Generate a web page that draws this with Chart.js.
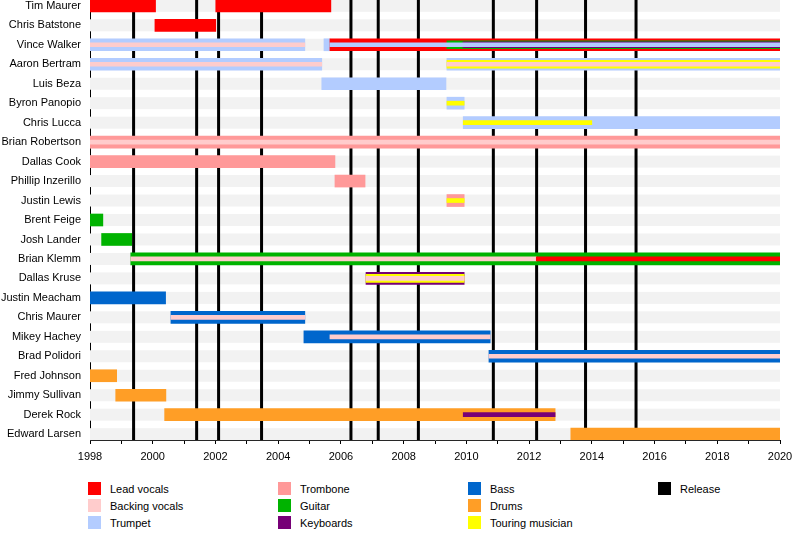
<!DOCTYPE html>
<html>
<head>
<meta charset="utf-8">
<script src="https://cdn.jsdelivr.net/npm/chart.js@4.4.1/dist/chart.umd.min.js"></script>
<style>
  body { margin: 0; background: #fff; font-family: "Liberation Sans", Arial, sans-serif; }
  #wrap { position: relative; width: 800px; height: 560px; }
  #chart { position: absolute; left: 0; top: 0; }
  .key { position: absolute; font-size: 11px; color: #000; line-height: 13px; white-space: nowrap; }
  .key i { position: absolute; left: 0; top: 0; width: 13px; height: 13px; }
  .key span { position: absolute; left: 22px; top: 1px; }
</style>
</head>
<body>
<div id="wrap">
  <canvas id="chart" width="800" height="470"></canvas>
  <div id="legend"></div>
</div>
<script>
const members = [
    'Tim Maurer', 'Chris Batstone', 'Vince Walker', 'Aaron Bertram', 'Luis Beza',
    'Byron Panopio', 'Chris Lucca', 'Brian Robertson', 'Dallas Cook', 'Phillip Inzerillo',
    'Justin Lewis', 'Brent Feige', 'Josh Lander', 'Brian Klemm', 'Dallas Kruse',
    'Justin Meacham', 'Chris Maurer', 'Mikey Hachey', 'Brad Polidori', 'Fred Johnson',
    'Jimmy Sullivan', 'Derek Rock', 'Edward Larsen'
];
const roles = ['Lead vocals', 'Backing vocals', 'Trumpet', 'Trombone', 'Guitar',
    'Keyboards', 'Bass', 'Drums', 'Touring musician'];
const roleColors = ['#ff0000', '#ffcccc', '#b3ccff', '#ff9999', '#00b300',
    '#770077', '#0066cc', '#ff9e26', '#ffff00'];
const releases = [1999.39, 2001.40, 2002.10, 2003.47, 2006.32, 2007.19, 2008.47,
    2010.86, 2012.24, 2013.80, 2015.41];
const yearLabels = [1998, 2000, 2002, 2004, 2006, 2008, 2010, 2012, 2014, 2016, 2018, 2020];

// [member, role, from, to]
const mainSpans = [
    ['Tim Maurer', 'Lead vocals', 1998, 2000.09],
    ['Tim Maurer', 'Lead vocals', 2002.01, 2005.68],
    ['Chris Batstone', 'Lead vocals', 2000.07, 2002.01],
    ['Vince Walker', 'Trumpet', 1998, 2004.85],
    ['Vince Walker', 'Trumpet', 2005.46, 2005.65],
    ['Vince Walker', 'Lead vocals', 2005.65, 2020],
    ['Aaron Bertram', 'Trumpet', 1998, 2005.39],
    ['Aaron Bertram', 'Trumpet', 2009.38, 2020],
    ['Luis Beza', 'Trumpet', 2005.39, 2009.35],
    ['Byron Panopio', 'Trumpet', 2009.38, 2009.93],
    ['Chris Lucca', 'Trumpet', 2009.90, 2020],
    ['Brian Robertson', 'Trombone', 1998, 2020],
    ['Dallas Cook', 'Trombone', 1998, 2005.81],
    ['Phillip Inzerillo', 'Trombone', 2005.81, 2006.77],
    ['Justin Lewis', 'Trombone', 2009.38, 2009.93],
    ['Brent Feige', 'Guitar', 1998, 1998.41],
    ['Josh Lander', 'Guitar', 1998.37, 1999.33],
    ['Brian Klemm', 'Guitar', 1999.30, 2020],
    ['Dallas Kruse', 'Keyboards', 2006.80, 2009.93],
    ['Justin Meacham', 'Bass', 1998, 2000.41],
    ['Chris Maurer', 'Bass', 2000.58, 2004.85],
    ['Mikey Hachey', 'Bass', 2004.82, 2010.76],
    ['Brad Polidori', 'Bass', 2010.72, 2020],
    ['Fred Johnson', 'Drums', 1998, 1998.85],
    ['Jimmy Sullivan', 'Drums', 1998.82, 2000.42],
    ['Derek Rock', 'Drums', 2000.38, 2012.83],
    ['Edward Larsen', 'Drums', 2013.33, 2020]
];
const secondSpans = [
    ['Vince Walker', 'Guitar', 2009.38, 2020],
    ['Aaron Bertram', 'Touring musician', 2009.38, 2020],
    ['Dallas Kruse', 'Touring musician', 2006.80, 2009.93]
];
const thirdSpans = [
    ['Vince Walker', 'Keyboards', 2009.89, 2020]
];
const innerSpans = [
    ['Vince Walker', 'Backing vocals', 1998, 2004.85],
    ['Vince Walker', 'Trumpet', 2005.65, 2020],
    ['Aaron Bertram', 'Backing vocals', 1998, 2005.39],
    ['Aaron Bertram', 'Backing vocals', 2009.38, 2020],
    ['Byron Panopio', 'Touring musician', 2009.38, 2009.93],
    ['Chris Lucca', 'Touring musician', 2009.90, 2014.0],
    ['Brian Robertson', 'Backing vocals', 1998, 2020],
    ['Justin Lewis', 'Touring musician', 2009.38, 2009.93],
    ['Brian Klemm', 'Backing vocals', 1999.30, 2012.23],
    ['Brian Klemm', 'Lead vocals', 2012.23, 2020],
    ['Dallas Kruse', 'Backing vocals', 2006.80, 2009.93],
    ['Chris Maurer', 'Backing vocals', 2000.58, 2004.85],
    ['Mikey Hachey', 'Backing vocals', 2005.65, 2010.76],
    ['Brad Polidori', 'Backing vocals', 2010.72, 2020],
    ['Derek Rock', 'Keyboards', 2009.90, 2012.83]
];

// each layer is drawn thinner and on top of the previous one
const layers = [
    { spans: mainSpans, thickness: 12, order: 3 },
    { spans: secondSpans, thickness: 8, order: 2 },
    { spans: thirdSpans, thickness: 6, order: 1 },
    { spans: innerSpans, thickness: 4, order: 0 }
];

const datasets = [];
layers.forEach(layer => {
    roles.forEach((role, r) => {
        const rows = layer.spans.filter(s => s[1] === role);
        if (!rows.length) return;
        datasets.push({
            label: role,
            data: rows.map(s => ({ y: members.indexOf(s[0]), x: [s[2], s[3]] })),
            backgroundColor: roleColors[r],
            borderWidth: 0,
            barThickness: layer.thickness,
            grouped: false,
            order: layer.order
        });
    });
});

const backdrop = {
    id: 'backdrop',
    beforeDatasetsDraw(chart) {
        const { ctx, chartArea: a, scales: { x, y } } = chart;
        ctx.save();
        ctx.fillStyle = '#f2f2f2';
        members.forEach((m, i) => {
            const c = y.getPixelForValue(i);
            ctx.fillRect(a.left, c - 6, a.right - a.left, 12);
        });
        ctx.fillStyle = '#000';
        releases.forEach(r => {
            const px = x.getPixelForValue(r);
            ctx.fillRect(px - 1.5, a.top, 3, a.bottom - a.top);
        });
        ctx.restore();
    }
};

Chart.defaults.font.family = '"Liberation Sans", Arial, sans-serif';
Chart.defaults.font.size = 11;
Chart.defaults.color = '#000';

new Chart(document.getElementById('chart').getContext('2d'), {
    type: 'bar',
    data: { datasets: datasets },
    options: {
        indexAxis: 'y',
        responsive: false,
        animation: false,
        layout: { padding: { right: 20 } },
        plugins: { legend: { display: false }, tooltip: { enabled: false } },
        scales: {
            y: {
                type: 'linear',
                reverse: true,
                offset: false,
                min: -0.3,
                max: members.length - 0.7,
                z: 1,
                afterBuildTicks: s => { s.ticks = members.map((m, i) => ({ value: i })); },
                afterFit: s => { s.width = 90; s.paddingTop = 0; s.paddingBottom = 0; },
                grid: { display: false, drawTicks: false, offset: false },
                border: { display: true, color: '#000', width: 1 },
                ticks: {
                    autoSkip: false,
                    padding: 9,
                    callback: v => members[v]
                }
            },
            x: {
                type: 'linear',
                min: 1998,
                max: 2020,
                z: 1,
                afterFit: s => { s.height = 30; },
                grid: { drawOnChartArea: false, drawTicks: true, tickLength: 4, color: '#000' },
                border: { display: true, color: '#000', width: 1 },
                ticks: {
                    stepSize: 1,
                    autoSkip: false,
                    maxRotation: 0,
                    padding: 6,
                    callback: v => yearLabels.includes(v) ? String(v) : ''
                }
            }
        }
    },
    plugins: [backdrop]
});

// legend, three entries per column
const legend = document.getElementById('legend');
roles.concat(['Release']).forEach((name, i) => {
    const el = document.createElement('div');
    el.className = 'key';
    el.style.left = (88 + Math.floor(i / 3) * 190) + 'px';
    el.style.top = (482 + (i % 3) * 17) + 'px';
    const color = i < roles.length ? roleColors[i] : '#000';
    el.innerHTML = '<i style="background:' + color + '"></i><span>' + name + '</span>';
    legend.appendChild(el);
});
</script>
</body>
